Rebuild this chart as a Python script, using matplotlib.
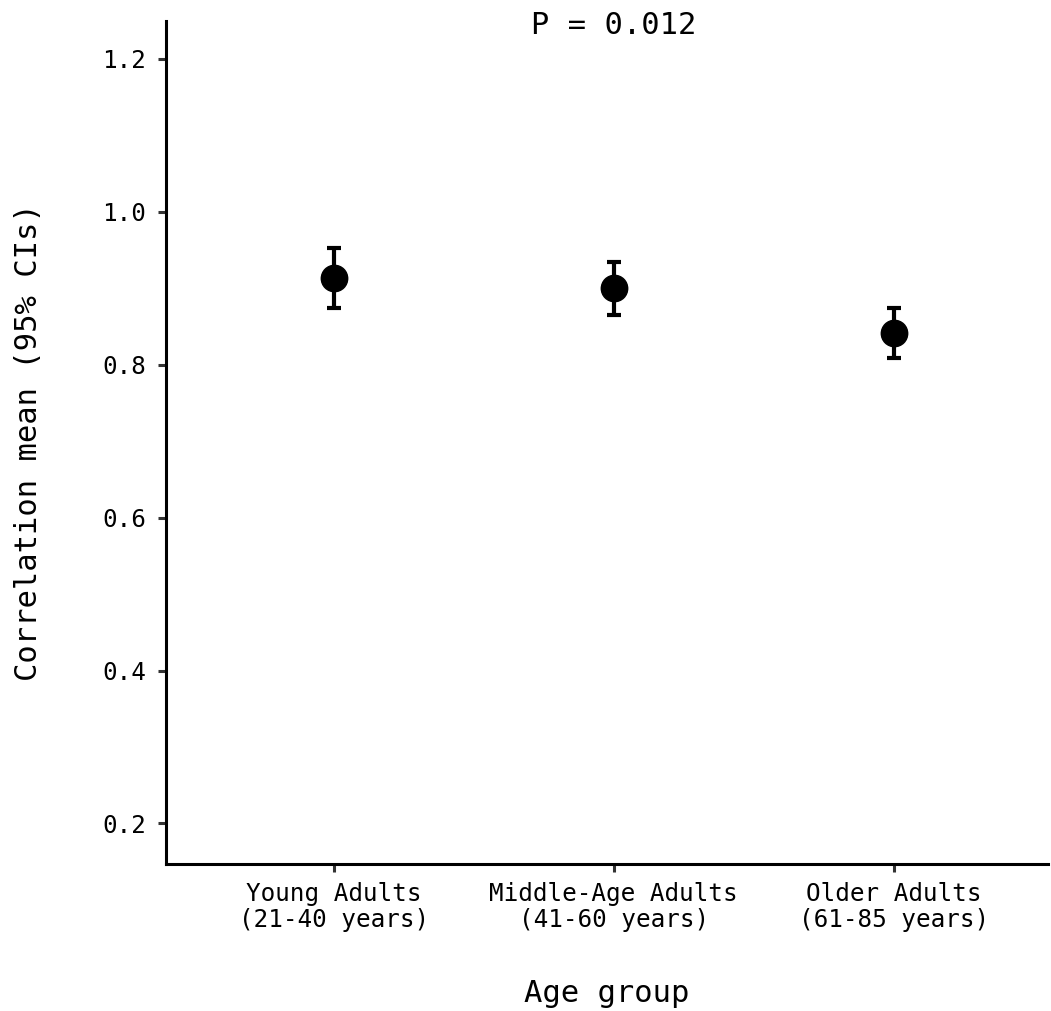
import matplotlib
matplotlib.use("Agg")
import matplotlib.pyplot as plt

categories = ["Young Adults\n(21-40 years)", "Middle-Age Adults\n(41-60 years)", "Older Adults\n(61-85 years)"]
means = [0.913, 0.900, 0.842]
ci_low = [0.874, 0.865, 0.809]
ci_high = [0.953, 0.935, 0.874]
yticks = [0.2, 0.4, 0.6, 0.8, 1.0, 1.2]
ytick_labels = ["0.2", "0.4", "0.6", "0.8", "1.0", "1.2"]
annotation = "P = 0.012"

plt.rcParams['font.family'] = ['DejaVu Sans Mono']

fig = plt.figure(figsize=(10.51, 10.11), dpi=100)
ax = fig.add_axes([0.1577, 0.1454, 0.997 - 0.1577, 0.9795 - 0.1454])

x = list(range(len(categories)))
yerr = [[m - l for m, l in zip(means, ci_low)], [h - m for m, h in zip(means, ci_high)]]
ax.errorbar(x, means, yerr=yerr, fmt='o', color='black', markersize=19,
            elinewidth=3.0, capsize=5, capthick=3.0, zorder=3)

ax.set_xlim(-0.6, 2.55)
ax.set_ylim(0.147, 1.25)
ax.set_xticks(x)
ax.set_xticklabels(categories, fontsize=17.5, linespacing=1.1)
ax.set_yticks(yticks)
ax.set_yticklabels(ytick_labels, fontsize=17.5)

for side in ['top', 'right']:
    ax.spines[side].set_visible(False)
for side in ['left', 'bottom']:
    ax.spines[side].set_linewidth(2.2)
    ax.spines[side].set_color('black')
ax.tick_params(axis='both', length=6, width=2.2, color='#333333', labelcolor='black')
ax.tick_params(axis='y', pad=8)
ax.tick_params(axis='x', pad=7)

ax.set_xlabel("Age group", fontsize=22, labelpad=34)
ax.set_ylabel("Correlation mean (95% CIs)", fontsize=22, labelpad=43)

ax.text(1, 1.232, annotation, ha='center', va='baseline', fontsize=22, clip_on=False)

fig.savefig("out.png", dpi=100)
